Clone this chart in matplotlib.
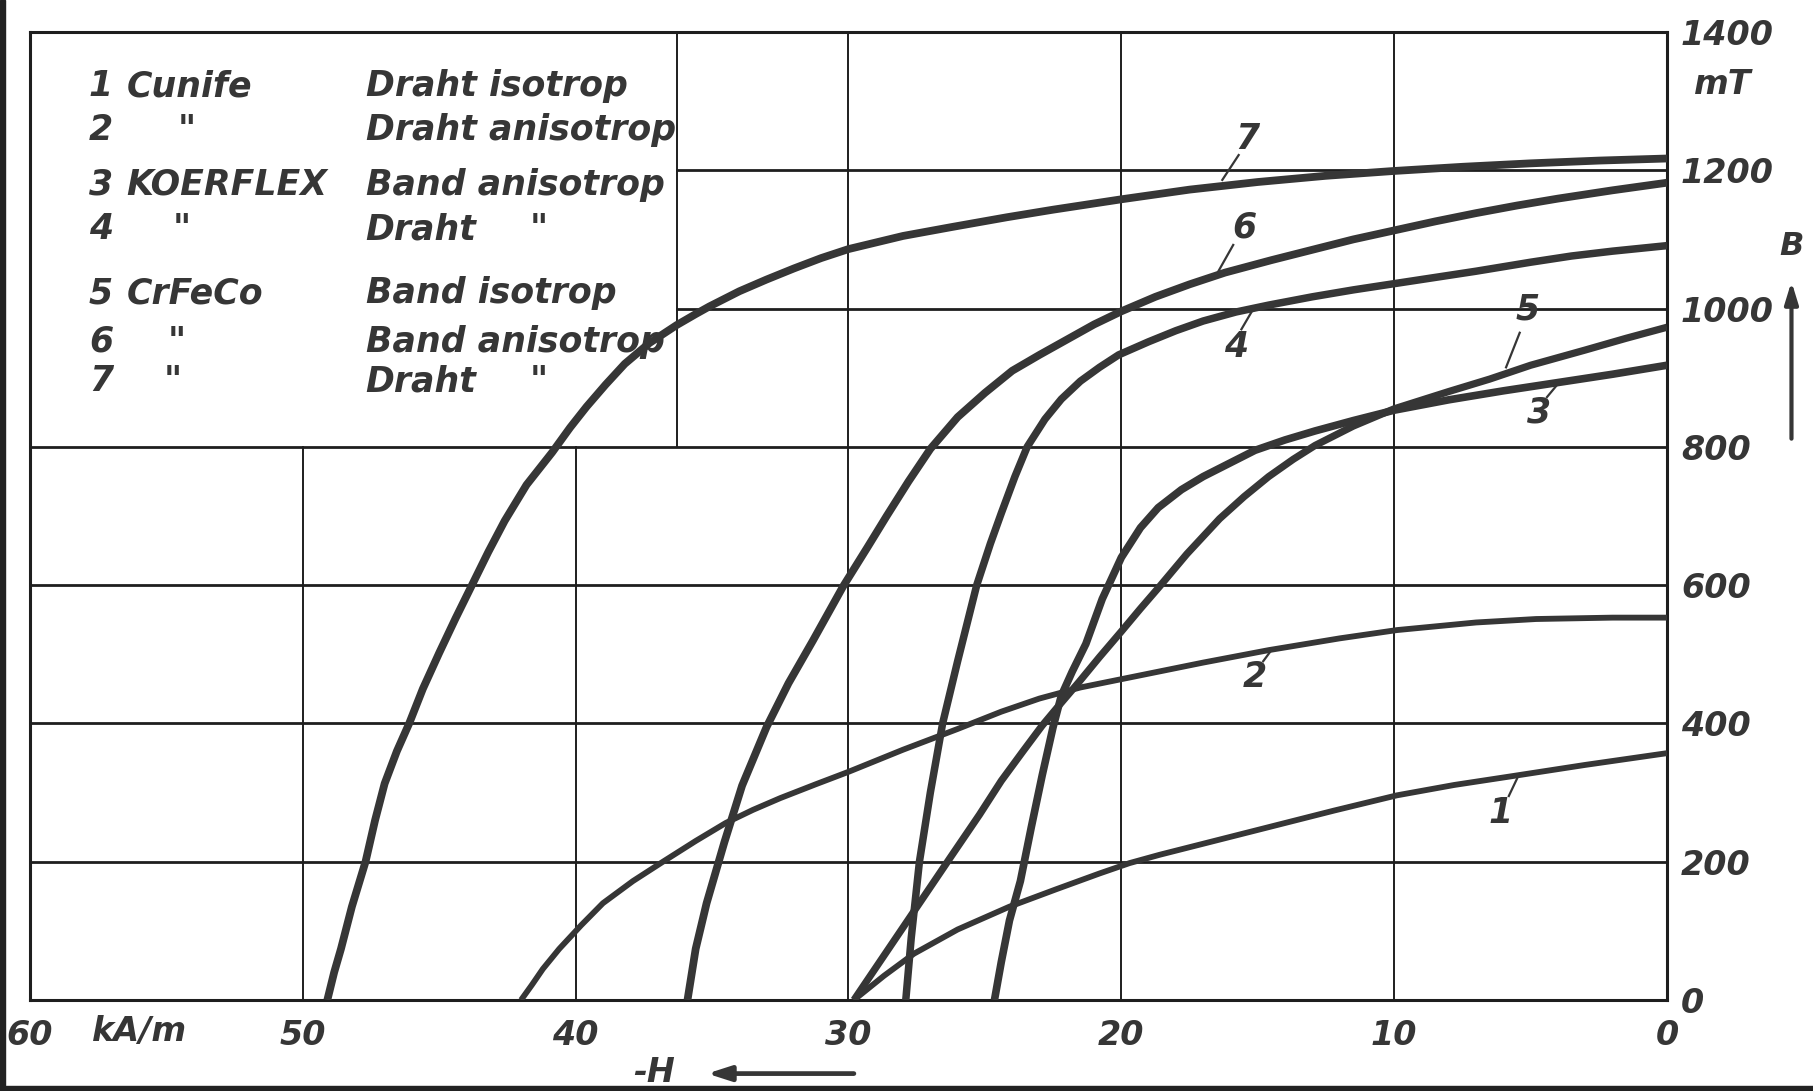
import matplotlib
matplotlib.use("Agg")
import matplotlib.pyplot as plt
from matplotlib.patches import Rectangle

# -------------------- data --------------------
# H in kA/m (demagnetising field, plotted to the left), B in mT
h1 = [29.8, 28.7, 27.6, 26.0, 24.1, 22.4, 20.8, 19.7, 18.6, 17.0, 14.6, 12.2, 9.9, 7.8, 5.8, 3.0, 0.0]
b1 = [0, 35, 67, 102, 135, 160, 183, 198, 210, 226, 250, 274, 296, 311, 323, 340, 357]

h2 = [42.0, 41.6, 41.2, 40.6, 39.8, 39.0, 37.9, 36.8, 35.6, 34.5, 33.5, 32.5, 31.2, 30.0,
      28.0, 26.0, 24.4, 23.0, 21.5, 20.0, 18.5, 17.0, 14.6, 12.0, 9.9, 7.0, 4.8, 2.0, 0.0]
b2 = [0, 22, 45, 74, 108, 140, 172, 200, 230, 256, 275, 292, 312, 330,
      362, 392, 417, 436, 452, 464, 476, 488, 506, 523, 535, 546, 551, 553, 553]

h3 = [24.65, 24.4, 24.1, 23.7, 23.3, 22.9, 22.5, 22.2, 21.8, 21.3, 20.7, 20.0, 19.3,
      18.65, 17.8, 17.0, 16.0, 15.1, 14.0, 12.9, 11.5, 10.0, 8.0, 6.0, 4.0, 2.0, 0.0]
b3 = [0, 55, 115, 172, 250, 325, 395, 440, 475, 515, 580, 640, 683,
      712, 738, 757, 777, 795, 810, 823, 838, 853, 868, 881, 893, 905, 918]

h4 = [27.9, 27.7, 27.4, 27.0, 26.55, 26.0, 25.3, 24.8, 24.4, 23.9, 23.45, 22.8, 22.2,
      21.5, 20.8, 20.1, 19.0, 18.0, 17.0, 15.8, 14.6, 13.0, 11.5, 10.0, 8.5, 7.0,
      5.0, 3.5, 2.0, 0.0]
b4 = [0, 90, 200, 300, 400, 490, 600, 660, 704, 757, 800, 840, 869,
      895, 915, 933, 952, 968, 982, 995, 1005, 1017, 1027, 1036, 1045, 1054,
      1067, 1076, 1083, 1091]

h5 = [29.8, 28.6, 27.4, 26.2, 25.2, 24.4, 23.6, 22.9, 22.2, 21.55, 20.8, 20.0, 19.3,
      18.6, 17.6, 16.4, 15.5, 14.6, 13.7, 12.9, 11.5, 10.0, 8.0, 6.5, 5.0, 3.0, 1.5, 0.0]
b5 = [0, 70, 140, 210, 268, 317, 360, 397, 430, 460, 496, 533, 566,
      598, 645, 696, 728, 757, 782, 802, 830, 855, 880, 898, 918, 940, 957, 973]

h6 = [35.9, 35.6, 35.2, 34.55, 33.9, 33.0, 32.2, 31.3, 30.2, 29.3, 28.6, 27.8, 27.0,
      26.0, 25.0, 24.0, 23.0, 22.0, 21.0, 20.0, 18.75, 17.5, 16.2, 14.5, 13.0, 11.5,
      10.0, 8.5, 7.0, 5.5, 4.0, 2.0, 0.0]
b6 = [0, 74, 140, 228, 310, 395, 458, 520, 598, 655, 700, 750, 797,
      843, 878, 910, 933, 955, 977, 996, 1017, 1035, 1052, 1070, 1085, 1100,
      1113, 1126, 1138, 1149, 1159, 1171, 1182]

h7 = [49.1, 48.85, 48.6, 48.2, 47.7, 47.35, 47.0, 46.55, 46.1, 45.6, 45.0, 44.4, 43.8,
      43.2, 42.6, 41.8, 40.86, 40.2, 39.6, 38.9, 38.2, 37.3, 36.3, 35.6, 35.1, 34.0,
      33.0, 32.0, 31.0, 30.0, 28.0, 26.2, 24.2, 22.5, 20.0, 17.5, 15.0, 12.5, 10.0,
      7.5, 5.0, 2.5, 0.0]
b7 = [0, 40, 74, 135, 200, 260, 313, 360, 400, 450, 502, 552, 600,
      648, 693, 745, 792, 828, 858, 890, 920, 950, 976, 992, 1003, 1025,
      1042, 1058, 1073, 1086, 1105, 1118, 1132, 1143, 1158, 1172, 1183, 1192, 1199,
      1205, 1210, 1214, 1217]

curves = [(h1, b1), (h2, b2), (h3, b3), (h4, b4), (h5, b5), (h6, b6), (h7, b7)]
curve_widths = [4.2, 4.2, 5.5, 5.4, 5.2, 5.6, 5.6]

# curve number labels: (label, H, B of text, H, B of leader start, H, B of leader end)
curve_labels = [
    ("1", 6.1, 270, 5.8, 295, 5.5, 320),
    ("2", 15.1, 467, 14.8, 490, 14.5, 506),
    ("3", 4.7, 850, 4.4, 872, 4.0, 891),
    ("4", 15.8, 945, 15.6, 970, 15.2, 997),
    ("5", 5.1, 998, 5.4, 965, 5.9, 915),
    ("6", 15.5, 1117, 15.9, 1092, 16.5, 1050),
    ("7", 15.4, 1245, 15.7, 1222, 16.3, 1186),
]

legend_nums = ["1", "2", "3", "4", "5", "6", "7"]
legend_alloy = ["Cunife", '"', "KOERFLEX", '"', "CrFeCo", '"', '"']
legend_form = ["Draht isotrop", "Draht anisotrop", "Band anisotrop", "Draht",
               "Band isotrop", "Band anisotrop", "Draht"]
legend_ditto2 = [None, None, None, '"', None, None, '"']

x_ticks = [60, 50, 40, 30, 20, 10, 0]
y_ticks = [0, 200, 400, 600, 800, 1000, 1200, 1400]
y_tick_labels = ["0", "200", "400", "600", "800", "1000", "1200", "1400"]

INK = "#363636"
GRID = "#1e1e1e"
txt = dict(color=INK, style="italic", fontweight="bold", family="DejaVu Sans")

fig = plt.figure(figsize=(18.13, 10.91), dpi=100)
ax = fig.add_axes([0.0165, 0.0834, 0.903, 0.8873])
ax.set_xlim(60, 0)
ax.set_ylim(0, 1400)

# grid: the legend box in the upper left is left free
for b in [200, 400, 600, 800]:
    ax.plot([60, 0], [b, b], color=GRID, lw=2.0, zorder=1)
for b in [1000, 1200]:
    ax.plot([36.3, 0], [b, b], color=GRID, lw=2.0, zorder=1)
for h in [50, 40]:
    ax.plot([h, h], [0, 800], color=GRID, lw=1.4, zorder=1)
ax.plot([36.3, 36.3], [800, 1400], color=GRID, lw=1.4, zorder=1)
for h in [30, 20, 10]:
    ax.plot([h, h], [0, 1400], color=GRID, lw=1.4, zorder=1)

# demagnetisation curves
for (h, b), w in zip(curves, curve_widths):
    ax.plot(h, b, color=INK, lw=w, solid_capstyle="butt", solid_joinstyle="round", zorder=3)

for lab, tx, ty, sx, sy, ex, ey in curve_labels:
    ax.text(tx, ty, lab, fontsize=25, ha="center", va="center", zorder=5, **txt)
    ax.plot([sx, ex], [sy, ey], color=INK, lw=1.6, zorder=5)

# legend block
rows_y = [0.944, 0.899, 0.842, 0.796, 0.730, 0.680, 0.639]
ditto_x = [None, 0.090, None, 0.087, None, 0.084, 0.082]
for i in range(7):
    y = rows_y[i]
    ax.text(0.036, y, legend_nums[i], transform=ax.transAxes, fontsize=25,
            ha="left", va="center", **txt)
    ax.text(ditto_x[i] if legend_alloy[i] == '"' else 0.059, y, legend_alloy[i],
            transform=ax.transAxes, fontsize=25, ha="left", va="center", **txt)
    ax.text(0.205, y, legend_form[i], transform=ax.transAxes, fontsize=25,
            ha="left", va="center", **txt)
    if legend_ditto2[i]:
        ax.text(0.305, y, legend_ditto2[i], transform=ax.transAxes, fontsize=25,
                ha="left", va="center", **txt)

# axes and ticks
for s in ax.spines.values():
    s.set_color(GRID)
    s.set_linewidth(2.2)
ax.yaxis.tick_right()
ax.set_xticks(x_ticks)
ax.set_xticklabels([str(v) for v in x_ticks])
ax.set_yticks(y_ticks)
ax.set_yticklabels(y_tick_labels)
ax.tick_params(axis="both", length=0, labelsize=24, labelcolor=INK)
ax.tick_params(axis="x", pad=14)
ax.tick_params(axis="y", pad=10)
for t in ax.get_xticklabels() + ax.get_yticklabels():
    t.set_style("italic")
    t.set_fontweight("bold")

ax.text(0.067, -0.033, "kA/m", transform=ax.transAxes, fontsize=24,
        ha="center", va="center", **txt)
ax.text(1.034, 0.946, "mT", transform=ax.transAxes, fontsize=24,
        ha="center", va="center", clip_on=False, **txt)
ax.text(1.076, 0.778, "B", transform=ax.transAxes, fontsize=23,
        ha="center", va="center", clip_on=False, **txt)
ax.annotate("", xy=(1.076, 0.745), xytext=(1.076, 0.577), xycoords="axes fraction",
            arrowprops=dict(arrowstyle="-|>,head_length=1.3,head_width=0.4",
                            color=INK, lw=3.0))
ax.text(0.381, -0.075, "-H", transform=ax.transAxes, fontsize=24,
        ha="center", va="center", **txt)
ax.annotate("", xy=(0.412, -0.076), xytext=(0.505, -0.076), xycoords="axes fraction",
            arrowprops=dict(arrowstyle="-|>,head_length=1.4,head_width=0.45",
                            color=INK, lw=3.4))

# dark edges of the scanned page
fig.add_artist(Rectangle((0, 0), 0.003, 1, transform=fig.transFigure,
                         color="#222222", zorder=10))
fig.add_artist(Rectangle((0, 0), 1, 0.005, transform=fig.transFigure,
                         color="#222222", zorder=10))

fig.savefig("out.png", dpi=100, facecolor="white")
